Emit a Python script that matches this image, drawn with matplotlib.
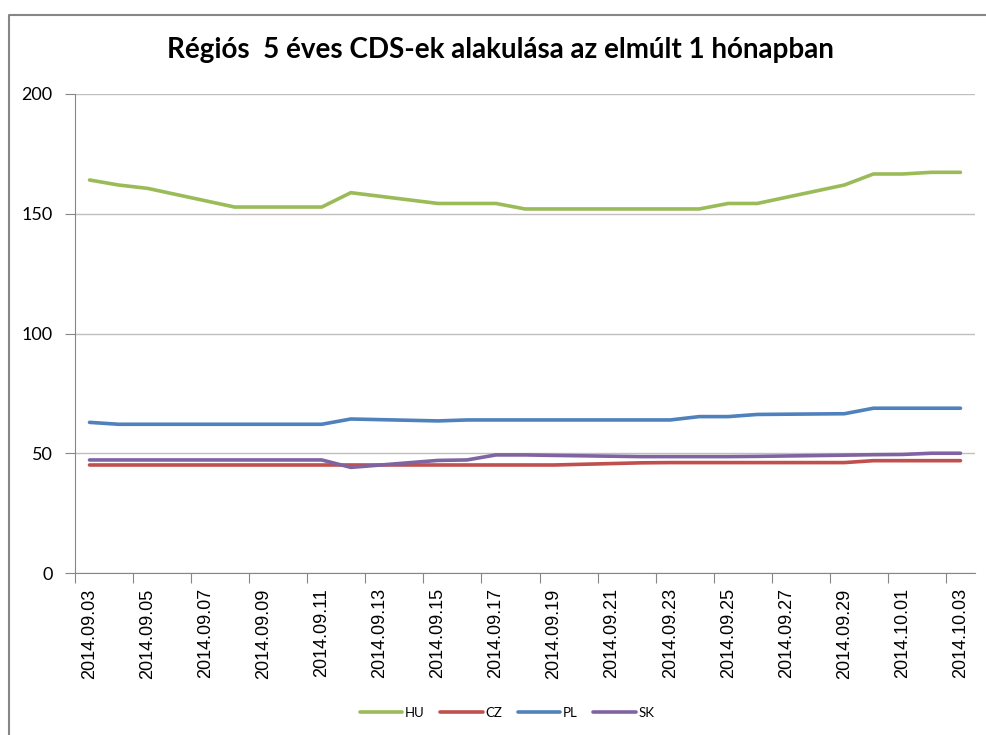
import matplotlib.pyplot as plt
import numpy as np
import pandas as pd
from matplotlib.lines import Line2D

# kereskedési napok (csak munkanapok vannak adatokkal)
dates = ['2014.09.03', '2014.09.04', '2014.09.05', '2014.09.08', '2014.09.09',
         '2014.09.10', '2014.09.11', '2014.09.12', '2014.09.15', '2014.09.16',
         '2014.09.17', '2014.09.18', '2014.09.19', '2014.09.22', '2014.09.23',
         '2014.09.24', '2014.09.25', '2014.09.26', '2014.09.29', '2014.09.30',
         '2014.10.01', '2014.10.02', '2014.10.03']

hu = [164.1, 162.0, 160.6, 152.8, 152.8, 152.8, 152.8, 158.8, 154.3, 154.3,
      154.3, 152.0, 152.0, 152.0, 152.0, 152.0, 154.3, 154.3, 162.0, 166.6,
      166.6, 167.3, 167.3]
cz = [45.1, 45.1, 45.1, 45.1, 45.1, 45.1, 45.1, 45.1, 45.1, 45.1,
      45.1, 45.1, 45.1, 46.0, 46.1, 46.1, 46.1, 46.1, 46.1, 46.9,
      46.9, 46.9, 46.9]
pl = [62.9, 62.1, 62.1, 62.1, 62.1, 62.1, 62.1, 64.3, 63.5, 63.9,
      63.9, 63.9, 63.9, 63.9, 63.9, 65.3, 65.3, 66.2, 66.5, 68.8,
      68.8, 68.8, 68.8]
sk = [47.2, 47.2, 47.2, 47.2, 47.2, 47.2, 47.2, 44.1, 47.0, 47.2,
      49.3, 49.3, 49.1, 48.6, 48.6, 48.6, 48.6, 48.7, 49.2, 49.4,
      49.5, 50.0, 50.0]

series = [('HU', hu, '#9BBB59'), ('CZ', cz, '#C0504D'),
          ('PL', pl, '#4F81BD'), ('SK', sk, '#8064A2')]

d = pd.to_datetime(dates, format='%Y.%m.%d')
x = (d - d[0]).days.values
n_days = x[-1] + 1
label_days = pd.date_range(d[0], d[-1], freq='2D')
tick_labels = [t.strftime('%Y.%m.%d') for t in label_days]

fig = plt.figure(figsize=(9.86, 7.35), dpi=100)
ax = fig.add_axes([75/986, 1 - 573/735, 900/986, 479/735])

for name, vals, col in series:
    ax.plot(x, vals, color=col, lw=2.6, label=name, solid_capstyle='round')

ax.set_xlim(-0.5, n_days - 0.5)
ax.set_ylim(0, 200)
ax.set_yticks([0, 50, 100, 150, 200])
ax.yaxis.grid(True, color='#BFBFBF', lw=1)
ax.set_axisbelow(True)

# tick vonalak a kategóriák között, feliratok középen
ax.set_xticks(np.arange(-0.5, n_days - 1, 2))
ax.set_xticklabels([])
ax.set_xticks((label_days - d[0]).days.values, minor=True)
ax.set_xticklabels(tick_labels, minor=True, rotation=90,
                   fontfamily='Liberation Sans', fontsize=13)
ax.tick_params(axis='x', which='major', length=7, color='#868686')
ax.tick_params(axis='x', which='minor', length=0, pad=11)
ax.tick_params(axis='y', length=7, color='#868686', pad=9, labelsize=13)
for lab in ax.get_yticklabels():
    lab.set_fontfamily('Lato')

for s in ['top', 'right']:
    ax.spines[s].set_visible(False)
for s in ['left', 'bottom']:
    ax.spines[s].set_color('#868686')

fig.text(500/986, 1 - 50/735, 'Régiós  5 éves CDS-ek alakulása az elmúlt 1 hónapban',
         ha='center', va='center', fontsize=20, fontweight='bold', fontfamily='Lato')

fig.legend(loc='center', bbox_to_anchor=(507/986, 1 - 713/735), ncol=4, frameon=False,
           prop={'family': 'Lato', 'size': 9.5}, handlelength=3.2,
           handletextpad=0.2, columnspacing=1.2)

# diagramterület kerete (csak bal és felső él látszik)
top_y = 1 - 15/735
fig.add_artist(Line2D([9/986, 9/986, 1.0], [0.0, top_y, top_y],
                      transform=fig.transFigure, color='#868686', lw=1.5))

plt.savefig('out.png', dpi=100)
plt.close()
